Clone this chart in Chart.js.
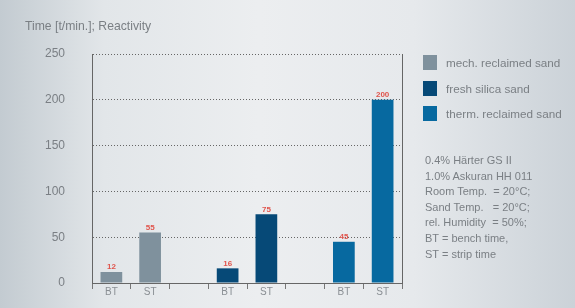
<!DOCTYPE html>
<html>
<head>
<meta charset="utf-8">
<script src="https://cdn.jsdelivr.net/npm/chart.js@4"></script>
<style>
    html, body { margin: 0; padding: 0; }
    body {
        width: 575px;
        height: 308px;
        overflow: hidden;
        font-family: 'Liberation Sans', Arial, sans-serif;
        background: linear-gradient(to right, #c3cbd1 0%, #e2e6e9 18%, #eceef0 45%, #e6e9ec 72%, #cbd2d8 100%);
    }
    .wrap { position: relative; width: 575px; height: 308px; }
    canvas { position: absolute; left: 0; top: 0; }
    .title { position: absolute; left: 25px; top: 19px; font-size: 12.2px; color: #7a7f84; }
    .legend { position: absolute; left: 423px; top: 55px; font-size: 11.7px; color: #7a7f84; }
    .legend div { height: 25.5px; display: flex; align-items: flex-start; }
    .legend span.sw { display: inline-block; width: 14px; height: 15px; margin-right: 9px; }
    .legend span.txt { line-height: 15px; }
    .notes { position: absolute; left: 425px; top: 153px; font-size: 11px; line-height: 15.6px; color: #7a7f84; }
</style>
</head>
<body>
<div class="wrap">
    <canvas id="chart" width="575" height="308"></canvas>
    <div class="title">Time [t/min.]; Reactivity</div>
    <div class="legend" id="legend"></div>
    <div class="notes">
        0.4% Härter GS II<br>
        1.0% Askuran HH 011<br>
        Room Temp.&nbsp; = 20°C;<br>
        Sand Temp.&nbsp;&nbsp; = 20°C;<br>
        rel. Humidity&nbsp; = 50%;<br>
        BT = bench time,<br>
        ST = strip time
    </div>
</div>
<script>
    const categories = ['BT', 'ST', '', 'BT', 'ST', '', 'BT', 'ST'];
    const seriesNames = ['mech. reclaimed sand', 'fresh silica sand', 'therm. reclaimed sand'];
    const mechValues = [12, 55, null, null, null, null, null, null];
    const freshValues = [null, null, null, 16, 75, null, null, null];
    const thermValues = [null, null, null, null, null, null, 45, 200];
    const yTicks = [0, 50, 100, 150, 200, 250];
    const colors = ['#7f919d', '#064977', '#0769a0'];

    const legendBox = document.getElementById('legend');
    seriesNames.forEach(function (name, i) {
        const row = document.createElement('div');
        row.innerHTML = '<span class="sw" style="background:' + colors[i] + '"></span><span class="txt">' + name + '</span>';
        legendBox.appendChild(row);
    });

    // red value labels above each bar
    const valueLabels = {
        id: 'valueLabels',
        afterDatasetsDraw: function (chart) {
            const ctx = chart.ctx;
            ctx.save();
            ctx.font = 'bold 8px "Liberation Sans", Arial, sans-serif';
            ctx.fillStyle = '#e0544c';
            ctx.textAlign = 'center';
            ctx.textBaseline = 'bottom';
            chart.data.datasets.forEach(function (dataset, di) {
                chart.getDatasetMeta(di).data.forEach(function (bar, i) {
                    const v = dataset.data[i];
                    if (v === null || v === undefined) {
                        return;
                    }
                    ctx.fillText(String(v), bar.x, bar.y - 1);
                });
            });
            ctx.restore();
        }
    };

    new Chart(document.getElementById('chart'), {
        type: 'bar',
        data: {
            labels: categories,
            datasets: [
                { label: seriesNames[0], data: mechValues, backgroundColor: colors[0] },
                { label: seriesNames[1], data: freshValues, backgroundColor: colors[1] },
                { label: seriesNames[2], data: thermValues, backgroundColor: colors[2] }
            ]
        },
        options: {
            responsive: false,
            animation: false,
            layout: { padding: { left: 0, right: 173, top: 54, bottom: 0 } },
            datasets: { bar: { barPercentage: 0.56, categoryPercentage: 1 } },
            plugins: { legend: { display: false }, tooltip: { enabled: false } },
            scales: {
                x: {
                    stacked: true,
                    grid: { offset: true, drawOnChartArea: false, drawTicks: true, tickLength: 6, color: '#777', lineWidth: 1 },
                    border: { display: true, color: '#666', dash: [1, 2] },
                    ticks: { color: '#8a8f94', font: { size: 10, family: "'Liberation Sans', Arial, sans-serif" }, padding: -3 },
                    afterFit: function (scale) { scale.height = 25; }
                },
                y: {
                    stacked: true,
                    min: 0,
                    max: 250,
                    afterBuildTicks: function (scale) {
                        scale.ticks = yTicks.map(function (v) { return { value: v }; });
                    },
                    grid: { drawTicks: true, tickLength: 23, tickColor: 'rgba(0,0,0,0)', color: '#666', lineWidth: 1 },
                    border: { display: true, color: '#666', dash: [1, 2] },
                    ticks: { color: '#7a7f84', font: { size: 12, family: "'Liberation Sans', Arial, sans-serif" }, padding: 4 },
                    afterFit: function (scale) { scale.width = 92; }
                },
                y2: {
                    position: 'right',
                    min: 0,
                    max: 250,
                    grid: { drawOnChartArea: false, drawTicks: false },
                    border: { display: true, color: '#666', dash: [1, 2] },
                    ticks: { display: false },
                    afterFit: function (scale) { scale.width = 0; }
                }
            }
        },
        plugins: [valueLabels]
    });
</script>
</body>
</html>
